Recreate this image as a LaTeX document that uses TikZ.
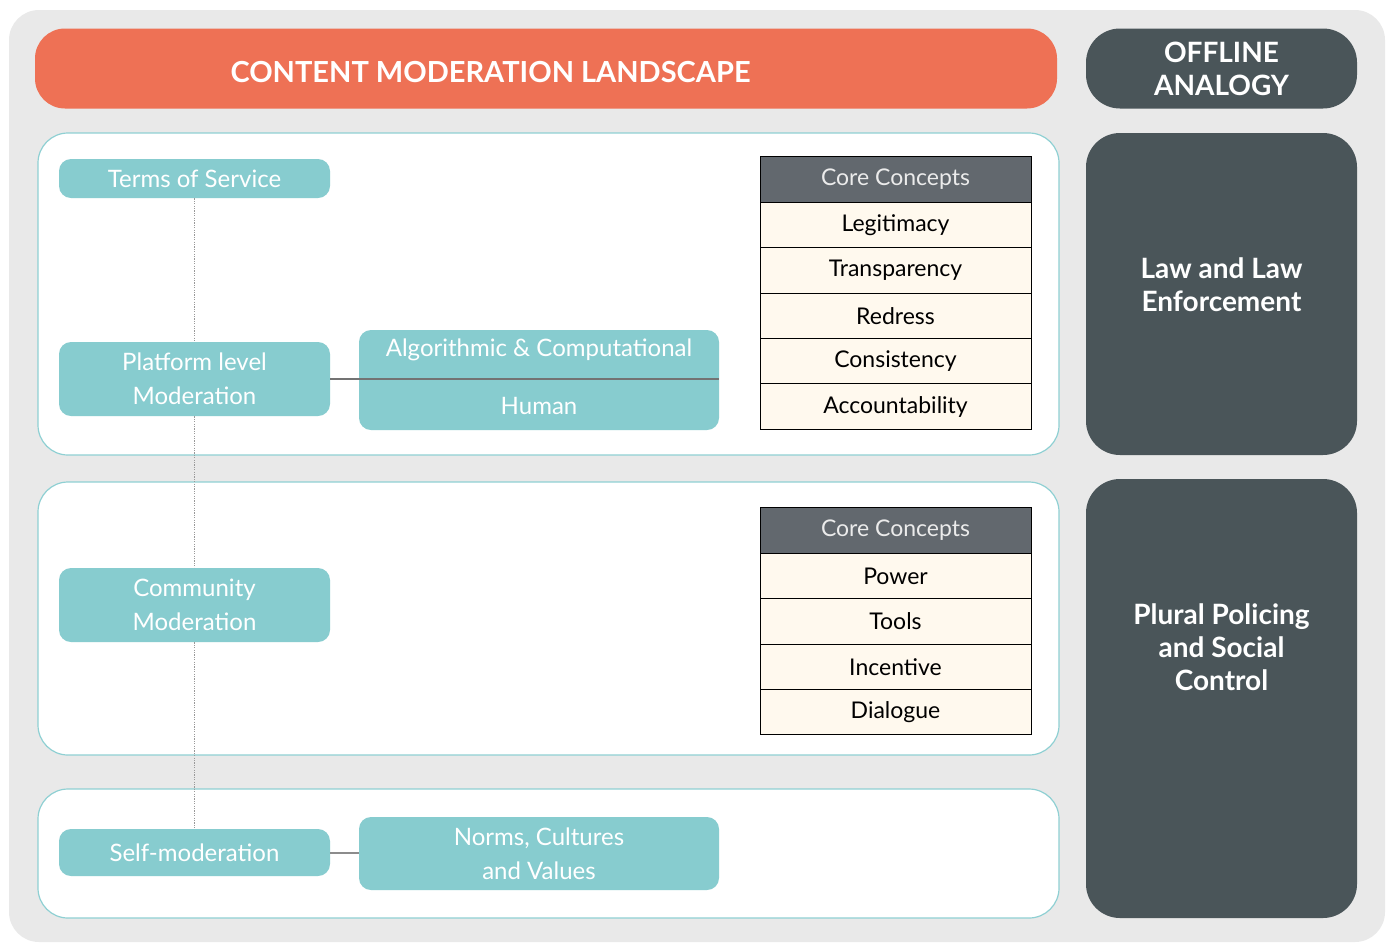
\documentclass[tikz,border=0pt]{standalone}
\usepackage{fontspec}
\setmainfont{Lato}
\usetikzlibrary{positioning}

\definecolor{bggray}{HTML}{E9E9E9}
\definecolor{titleorange}{HTML}{EE7155}
\definecolor{slate}{HTML}{4A5559}
\definecolor{modteal}{HTML}{87CCCF}
\definecolor{panelline}{HTML}{8FD0D3}
\definecolor{headgray}{HTML}{62686E}
\definecolor{cream}{HTML}{FFF9EE}

\tikzset{
  panel/.style={draw=panelline, line width=0.6pt, fill=white, rounded corners=15pt},
  modbox/.style={fill=modteal, rounded corners=6pt, text=white, align=center,
    inner sep=0pt, minimum width=135.5pt, font=\fontsize{12}{17}\selectfont},
  analogy/.style={fill=slate, rounded corners=17pt, inner sep=0pt, minimum width=135.5pt},
  analogytext/.style={text=white, align=center, font=\bfseries\fontsize{14}{16.5}\selectfont},
  concepthead/.style={draw=black, line width=0.5pt, fill=headgray, text=white!92!black,
    minimum width=135.5pt, minimum height=22.7pt, inner sep=0pt, outer sep=0pt,
    font=\fontsize{11.5}{13}\selectfont},
  concept/.style={concepthead, fill=cream, text=black},
  spine/.style={draw=black!40, line width=0.6pt, dash pattern=on 0.6pt off 0.6pt},
  link/.style={draw=black!55, line width=0.6pt}
}

\begin{document}
\begin{tikzpicture}[x=0.5pt, y=-0.5pt]
  \useasboundingbox (0,0) rectangle (1391,943);
  \fill[bggray, rounded corners=15pt] (9,10) rectangle (1385,942);

  % landscape header and the three levels
  \node[fill=titleorange, rounded corners=15pt, minimum width=511pt, minimum height=40pt,
    inner sep=0pt] (title) at (546,68.5) {};
  \node[text=white, font=\bfseries\fontsize{14.5}{16}\selectfont] (titletext) at (490.5,72)
    {CONTENT MODERATION LANDSCAPE};
  \path[panel] (38,133) rectangle (1059,455);
  \path[panel] (38,482) rectangle (1059,755);
  \path[panel] (38,789) rectangle (1059,918);

  % offline analogy column
  \node[analogy, minimum height=40pt] (offline) at (1221.5,68.5) {};
  \node[analogytext] (offlinetext) at (1221.5,68.5) {OFFLINE\\ANALOGY};
  \node[analogy, minimum height=161pt] (law) at (1221.5,294) {};
  \node[analogytext] (lawtext) at (1221.5,284.5) {Law and Law\\Enforcement};
  \node[analogy, minimum height=219.5pt] (plural) at (1221.5,698.5) {};
  \node[analogytext] (pluraltext) at (1221.5,647) {Plural Policing\\and Social\\Control};

  % moderation layers
  \node[modbox, minimum height=19.5pt] (terms) at (194.5,178.5) {Terms of Service};
  \node[modbox, minimum height=37pt] (platform) at (194.5,379) {Platform level\\Moderation};
  \node[modbox, minimum height=37pt] (community) at (194.5,605) {Community\\Moderation};
  \node[modbox, minimum height=23.5pt] (self) at (194.5,852.5) {Self-moderation};
  \node[modbox, minimum width=180pt, minimum height=50pt] (algo) at (539,380) {};
  \node[text=white, font=\fontsize{12}{17}\selectfont] (algotext) at (539,350)
    {Algorithmic \& Computational};
  \node[text=white, font=\fontsize{12}{17}\selectfont] (humantext) at (539,406) {Human};
  \node[modbox, minimum width=180pt, minimum height=36.5pt] (norms) at (539,853.5)
    {Norms, Cultures\\and Values};

  \draw[spine] (terms.south) -- (platform.north);
  \draw[spine] (platform.south) -- (community.north);
  \draw[spine] (community.south) -- (self.north);
  \draw[link] (platform.east) -- (platform.east -| algo.east);
  \draw[link, draw=black!45, line width=1pt] (self.east) -- (self.east -| norms.west);

  % core concepts, platform level
  \node[concepthead] (head1) at (895.5,179.5) {Core Concepts};
  \node[concept, below=0pt of head1] (legit) {Legitimacy};
  \node[concept, below=0pt of legit] (transp) {Transparency};
  \node[concept, below=0pt of transp] (redress) {Redress};
  \node[concept, below=0pt of redress] (consist) {Consistency};
  \node[concept, below=0pt of consist] (account) {Accountability};

  % core concepts, community level
  \node[concepthead] (head2) at (895.5,530.5) {Core Concepts};
  \node[concept, below=0pt of head2] (power) {Power};
  \node[concept, below=0pt of power] (tools) {Tools};
  \node[concept, below=0pt of tools] (incent) {Incentive};
  \node[concept, below=0pt of incent] (dialog) {Dialogue};
\end{tikzpicture}
\end{document}
